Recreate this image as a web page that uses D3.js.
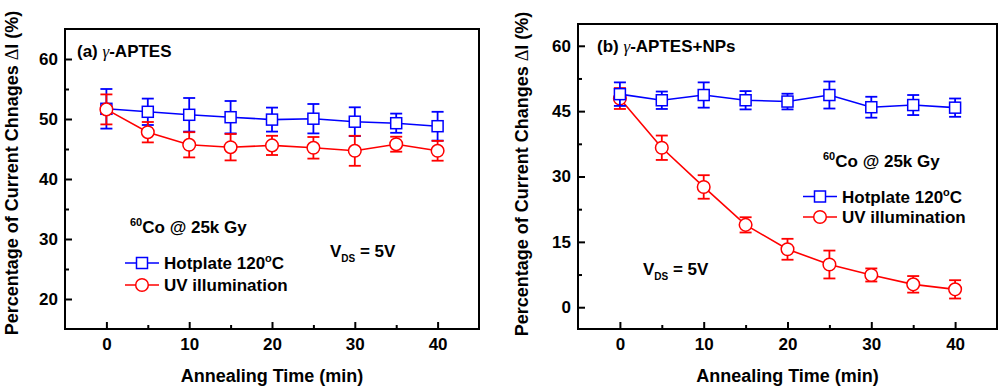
<!DOCTYPE html>
<html>
<head>
<meta charset="utf-8">
<script src="https://cdn.jsdelivr.net/npm/d3@7"></script>
<style>
  body { margin: 0; background: #fff; }
  svg { display: block; font-family: 'Liberation Sans', Arial, sans-serif; font-weight: bold; }
</style>
</head>
<body>
<svg width="1000" height="390"></svg>
<script>
const w = 1000;
const h = 390;

// annealing times (min)
const times = [0, 5, 10, 15, 20, 25, 30, 35, 40];
const xTicks = [0, 10, 20, 30, 40];
const xMinor = [5, 15, 25, 35];

// panel (a) gamma-APTES
const aYTicks = [20, 30, 40, 50, 60];
const aYMinor = [25, 35, 45, 55];
const aHot = [51.7, 51.2, 50.7, 50.3, 49.9, 50.05, 49.55, 49.3, 48.8];
const aHotErr = [3.3, 2.2, 2.8, 2.7, 2.0, 2.45, 2.4, 1.6, 2.4];
const aUv = [51.6, 47.8, 45.7, 45.3, 45.6, 45.2, 44.7, 45.8, 44.7];
const aUvErr = [2.5, 1.7, 2.1, 2.2, 1.6, 1.8, 2.5, 1.25, 1.65];

// panel (b) gamma-APTES + NPs
const bYTicks = [0, 15, 30, 45, 60];
const bYMinor = [7.5, 22.5, 37.5, 52.5];
const bHot = [48.9, 47.5, 48.7, 47.5, 47.2, 48.7, 45.9, 46.4, 45.8];
const bHotErr = [2.7, 2.0, 2.9, 2.1, 1.8, 3.1, 2.4, 2.3, 2.1];
const bUv = [47.9, 36.6, 27.6, 18.9, 13.3, 9.8, 7.4, 5.25, 4.1];
const bUvErr = [2.4, 2.8, 2.7, 1.75, 2.4, 3.2, 1.5, 1.9, 2.1];

const blue = '#0000ff';
const red = '#ff0000';

let canvas = d3.select('svg').attr('width', w).attr('height', h);

const drawPanel = (p) => {
	const xScale = d3.scaleLinear().domain([-5, 45]).range([p.x0, p.x1]);
	const yScale = d3.scaleLinear().domain(p.yDomain).range([p.y1, p.y0]);
	const g = canvas.append('g');

	// minor ticks
	g.append('g')
		.attr('transform', `translate(0,${p.y1})`)
		.call(d3.axisBottom(xScale).tickValues(xMinor).tickSize(-4).tickFormat(''));
	g.append('g')
		.attr('transform', `translate(${p.x0},0)`)
		.call(d3.axisLeft(yScale).tickValues(p.yMinor).tickSize(-4).tickFormat(''));

	// major ticks + labels
	g.append('g')
		.attr('class', 'x-axis')
		.attr('transform', `translate(0,${p.y1})`)
		.call(d3.axisBottom(xScale).tickValues(xTicks).tickSize(-7).tickPadding(9).tickFormat(d3.format('d')));
	g.append('g')
		.attr('class', 'y-axis')
		.attr('transform', `translate(${p.x0},0)`)
		.call(d3.axisLeft(yScale).tickValues(p.yTicks).tickSize(-7).tickPadding(7).tickFormat(d3.format('d')));

	g.selectAll('.domain').remove();
	g.selectAll('.tick line').attr('stroke', '#000').attr('stroke-width', 2);
	g.selectAll('.tick text')
		.attr('fill', '#000')
		.attr('font-size', '17px')
		.attr('font-family', "'Liberation Sans', Arial, sans-serif")
		.attr('font-weight', 'bold');

	const drawSeries = (vals, errs, color, shape) => {
		const s = g.append('g');
		const pts = times.map((t, i) => ({ t: t, v: vals[i], e: errs[i] }));
		s.append('path')
			.datum(pts)
			.attr('fill', 'none')
			.attr('stroke', color)
			.attr('stroke-width', 1.6)
			.attr('d', d3.line().x((d) => xScale(d.t)).y((d) => yScale(d.v)));
		const eb = s.selectAll('.err').data(pts).enter().append('g').attr('stroke', color).attr('stroke-width', 1.8);
		eb.append('line')
			.attr('x1', (d) => xScale(d.t))
			.attr('x2', (d) => xScale(d.t))
			.attr('y1', (d) => yScale(d.v - d.e))
			.attr('y2', (d) => yScale(d.v + d.e));
		eb.append('line')
			.attr('x1', (d) => xScale(d.t) - 6)
			.attr('x2', (d) => xScale(d.t) + 6)
			.attr('y1', (d) => yScale(d.v + d.e))
			.attr('y2', (d) => yScale(d.v + d.e));
		eb.append('line')
			.attr('x1', (d) => xScale(d.t) - 6)
			.attr('x2', (d) => xScale(d.t) + 6)
			.attr('y1', (d) => yScale(d.v - d.e))
			.attr('y2', (d) => yScale(d.v - d.e));
		if (shape === 'square') {
			s.selectAll('.mk').data(pts).enter().append('rect')
				.attr('x', (d) => xScale(d.t) - 5.5)
				.attr('y', (d) => yScale(d.v) - 5.5)
				.attr('width', 11)
				.attr('height', 11)
				.attr('fill', '#fff')
				.attr('stroke', color)
				.attr('stroke-width', 1.5);
		} else {
			s.selectAll('.mk').data(pts).enter().append('circle')
				.attr('cx', (d) => xScale(d.t))
				.attr('cy', (d) => yScale(d.v))
				.attr('r', 6.3)
				.attr('fill', '#fff')
				.attr('stroke', color)
				.attr('stroke-width', 1.5);
		}
	};

	if (p.redFirst) {
		drawSeries(p.uv, p.uvErr, red, 'circle');
		drawSeries(p.hot, p.hotErr, blue, 'square');
	} else {
		drawSeries(p.hot, p.hotErr, blue, 'square');
		drawSeries(p.uv, p.uvErr, red, 'circle');
	}

	// frame
	g.append('rect')
		.attr('x', p.x0)
		.attr('y', p.y0)
		.attr('width', p.x1 - p.x0)
		.attr('height', p.y1 - p.y0)
		.attr('fill', 'none')
		.attr('stroke', '#000')
		.attr('stroke-width', 2);

	// panel title
	const title = g.append('text').attr('x', p.titleX).attr('y', p.titleY).attr('font-size', '17px');
	title.append('tspan').text(p.titleA);
	title.append('tspan').attr('font-family', "'Liberation Serif', serif").attr('font-weight', 'normal').attr('font-style', 'italic').text('γ');
	title.append('tspan').text(p.titleB);

	// 60Co note
	const co = g.append('text').attr('x', p.coX).attr('y', p.coY);
	co.append('tspan').attr('font-size', '11px').attr('dy', -7).text('60');
	co.append('tspan').attr('font-size', '17px').attr('dy', 7).text('Co @ 25k Gy');

	// legend
	const legend = [
		{ color: blue, shape: 'square', label: 'Hotplate 120', deg: true },
		{ color: red, shape: 'circle', label: 'UV illumination', deg: false },
	];
	legend.forEach((item, i) => {
		const ly = p.legY + i * p.legGap;
		g.append('line')
			.attr('x1', p.legX)
			.attr('x2', p.legX + 34)
			.attr('y1', ly)
			.attr('y2', ly)
			.attr('stroke', item.color)
			.attr('stroke-width', 1.6);
		if (item.shape === 'square') {
			g.append('rect').attr('x', p.legX + 17 - 5.5).attr('y', ly - 5.5).attr('width', 11).attr('height', 11)
				.attr('fill', '#fff').attr('stroke', item.color).attr('stroke-width', 1.5);
		} else {
			g.append('circle').attr('cx', p.legX + 17).attr('cy', ly).attr('r', 6.3)
				.attr('fill', '#fff').attr('stroke', item.color).attr('stroke-width', 1.5);
		}
		const t = g.append('text').attr('x', p.legX + 39).attr('y', ly + 6).attr('font-size', '17px');
		t.append('tspan').text(item.label);
		if (item.deg) {
			t.append('tspan').attr('font-size', '11px').attr('dy', -7).text('o');
			t.append('tspan').attr('dy', 7).text('C');
		}
	});

	// V_DS note
	const vds = g.append('text').attr('x', p.vX).attr('y', p.vY).attr('font-size', '17px');
	vds.append('tspan').text('V');
	vds.append('tspan').attr('font-size', '10px').attr('dy', 5).text('DS');
	vds.append('tspan').attr('dy', -5).text(' = 5V');

	// axis titles
	g.append('text')
		.attr('x', (p.x0 + p.x1) / 2)
		.attr('y', 382)
		.attr('text-anchor', 'middle')
		.attr('font-size', '18px')
		.text('Annealing Time (min)');
	const yt = g.append('text')
		.attr('transform', `translate(${p.yTitleX},${p.yTitleY}) rotate(-90)`)
		.attr('text-anchor', 'middle')
		.attr('font-size', '18px');
	yt.append('tspan').text(p.yTitle);
	yt.append('tspan').attr('font-family', "'Liberation Serif', serif").attr('font-weight', 'normal').text('Δ');
	yt.append('tspan').text('I (%)');
};

drawPanel({
	x0: 65, x1: 479, y0: 29, y1: 329,
	yDomain: [15, 65], yTicks: aYTicks, yMinor: aYMinor,
	hot: aHot, hotErr: aHotErr, uv: aUv, uvErr: aUvErr, redFirst: false,
	titleX: 77, titleY: 57, titleA: '(a) ', titleB: '-APTES',
	coX: 130, coY: 233,
	legX: 125, legY: 263, legGap: 22,
	vX: 330, vY: 257,
	yTitleX: 18, yTitleY: 173, yTitle: 'Percentage of Current Chnages ',
});

drawPanel({
	x0: 578, x1: 997, y0: 24, y1: 329,
	yDomain: [-5, 65], yTicks: bYTicks, yMinor: bYMinor,
	hot: bHot, hotErr: bHotErr, uv: bUv, uvErr: bUvErr, redFirst: true,
	titleX: 597, titleY: 52, titleA: '(b) ', titleB: '-APTES+NPs',
	coX: 823, coY: 167,
	legX: 803, legY: 196.5, legGap: 20.5,
	vX: 643, vY: 275,
	yTitleX: 528, yTitleY: 174, yTitle: 'Percentage of Current Changes ',
});
</script>
</body>
</html>
